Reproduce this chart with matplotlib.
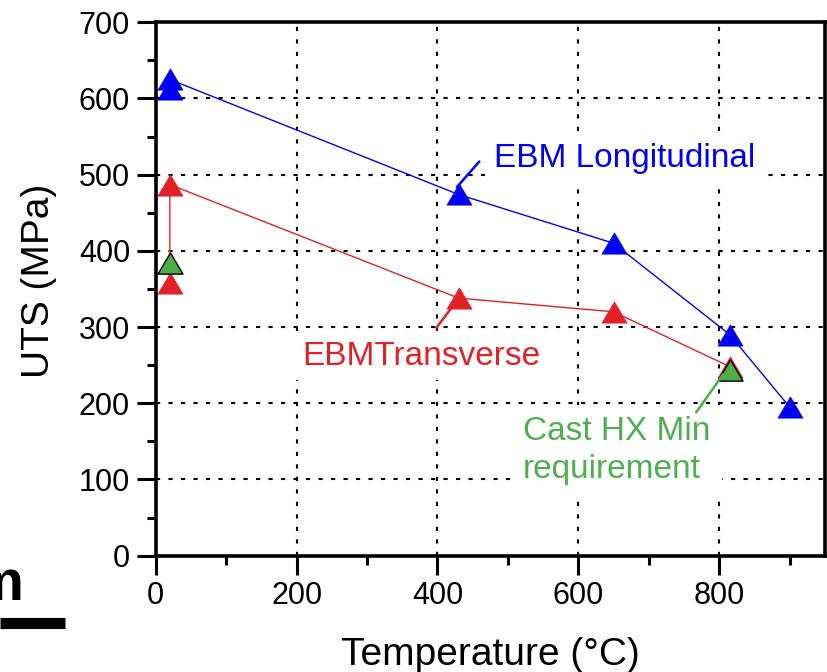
import matplotlib
matplotlib.use("Agg")
import matplotlib.pyplot as plt
from matplotlib.lines import Line2D
from matplotlib.ticker import MultipleLocator

plt.rcParams["font.family"] = ["Liberation Sans", "DejaVu Sans"]

# --- data ---
long_temp = [20, 20, 430, 650, 815, 900]
long_uts = [612, 625, 474, 410, 290, 195]

trans_temp = [20, 20, 430, 650, 815]
trans_uts = [358, 487, 338, 320, 248]

cast_temp = [20, 815]
cast_uts = [384, 244]

BLUE = "#0000F5"
RED = "#E32025"
GREEN = "#4DAE48"
GREEN_TXT = "#4CAF50"

# triangle a little wider than tall
tri = [(0, 0.85), (-1, -0.85), (1, -0.85), (0, 0.85)]

fig = plt.figure(figsize=(8.27, 6.72), dpi=100)
ax = fig.add_axes([0.1883, 0.1732, 0.8091, 0.7936])

ax.plot(long_temp, long_uts, color=BLUE, lw=1, marker=tri, ms=18,
        mfc=BLUE, mec=BLUE, mew=0.5, zorder=4)
ax.plot(trans_temp, trans_uts, color=RED, lw=1, marker=tri, ms=18,
        mfc=RED, mec=RED, mew=0.5, zorder=3)
ax.plot(cast_temp, cast_uts, ls="none", marker=tri, ms=18,
        mfc=GREEN, mec="black", mew=1, zorder=5)

ax.set_xlim(0, 950)
ax.set_ylim(0, 700)
ax.xaxis.set_major_locator(MultipleLocator(200))
ax.xaxis.set_minor_locator(MultipleLocator(100))
ax.yaxis.set_major_locator(MultipleLocator(100))
ax.yaxis.set_minor_locator(MultipleLocator(50))

# dotted grid
for gx in [200, 400, 600, 800]:
    ax.axvline(gx, color="black", lw=1.5, ls=(0, (2, 4)), zorder=1)
for gy in [100, 200, 300, 400, 500, 600]:
    ax.axhline(gy, color="black", lw=1.5, ls=(0, (2, 4)), zorder=1)

for s in ax.spines.values():
    s.set_linewidth(2.6)
ax.tick_params(which="both", direction="out", width=2.2, labelsize=22,
               top=False, right=False)
ax.tick_params(which="major", length=13.5, pad=5)
ax.tick_params(which="minor", length=6.5)

ax.set_xlabel("Temperature (°C)", fontsize=28)
ax.set_ylabel("UTS (MPa)", fontsize=28)
ax.xaxis.set_label_coords(0.5, -0.152)
ax.yaxis.set_label_coords(-0.148, 0.515)

# --- annotations ---
box = dict(boxstyle="square,pad=0.25", fc="white", ec="none")
ax.text(480, 510, "EBM Longitudinal", color=BLUE, fontsize=24,
        va="baseline", ha="left", bbox=box, zorder=2)
ax.annotate("", xy=(425, 481), xytext=(462, 520),
            arrowprops=dict(arrowstyle="-", color=BLUE, lw=1.8), zorder=6)

ax.text(208, 250, "EBMTransverse", color=RED, fontsize=24,
        va="baseline", ha="left", bbox=box, zorder=2)
ax.annotate("", xy=(423, 329), xytext=(396, 296),
            arrowprops=dict(arrowstyle="-", color=RED, lw=1.8), zorder=6)

ax.text(521, 102, "Cast HX Min\nrequirement", color=GREEN_TXT, fontsize=24,
        va="baseline", ha="left", linespacing=1.28,
        bbox=dict(boxstyle="square,pad=0.35", fc="white", ec="none"), zorder=2)
ax.annotate("", xy=(808, 241), xytext=(765, 185),
            arrowprops=dict(arrowstyle="-", color=GREEN, lw=1.8), zorder=6)

# cropped scale bar remnant on the left edge
fig.text(24 / 827, 72 / 672, "m", ha="right", va="baseline",
         fontsize=42, fontweight="bold")
fig.add_artist(Line2D([0, 65 / 827], [1 - 622.5 / 672] * 2, lw=8,
                      color="black", solid_capstyle="butt"))

fig.savefig("out.png", dpi=100)
